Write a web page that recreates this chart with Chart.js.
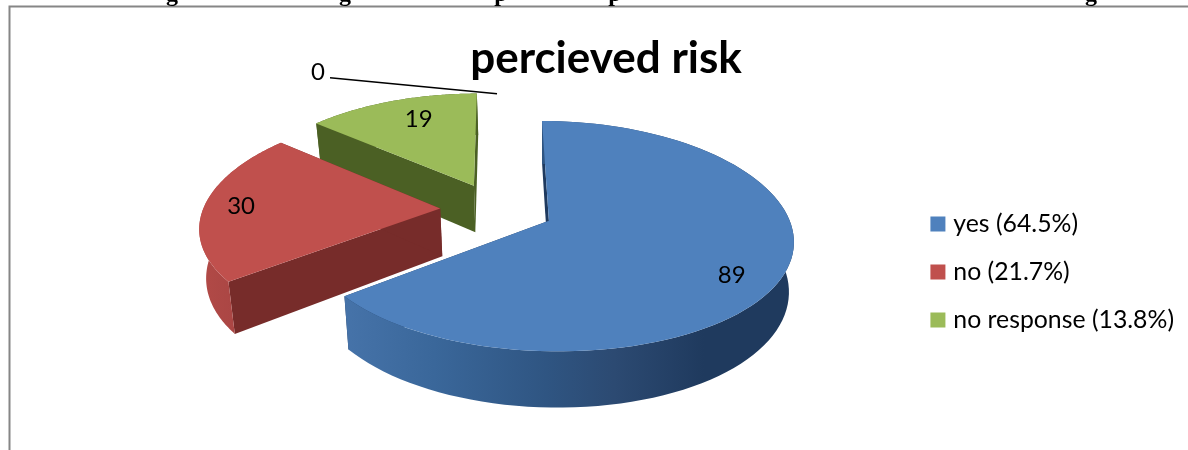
<!DOCTYPE html>
<html>
<head>
<meta charset="utf-8">
<style>
  html, body { margin: 0; padding: 0; background: #fff; }
  canvas { display: block; }
</style>
<script src="https://cdn.jsdelivr.net/npm/chart.js@4/dist/chart.umd.min.js"></script>
</head>
<body>
<canvas id="c" width="1188" height="450"></canvas>
<script>
const categories = ['yes (64.5%)', 'no (21.7%)', 'no response (13.8%)', 'unanswered'];
const counts = [89, 30, 19, 0];
const sliceColors = ['#4F81BD', '#C0504D', '#9BBB59', '#8064A2'];
const chartTitle = 'percieved risk';

// Perspective of the tilted pie: disc units to canvas pixels.
const view = { cx: 497, cy: 209, rx: 237, ry: 110, k: 0.132, kx: 0.15, depth: 48, taper: 0.02, taperX: 545, explode: 0.24 };
// Where each value label sits along its slice's middle direction.
const labelPlacement = [
  { along: 0.8, dx: -3, dy: 13 },
  { along: 0.84, dx: -1, dy: 0 },
  { along: 0.72, dx: 6, dy: -4 }
];
const wallShades = [
  { side: '#1F3A5F', rim: [[0, '#4673A9'], [0.2, '#3A679A'], [0.45, '#2F5582'], [0.6, '#2C4A72'], [0.8, '#1F3A5E'], [1, '#1F3A5E']] },
  { side: '#772C2A', rim: [[0, '#B24A47'], [1, '#A04140']] },
  { side: '#4B6024', rim: [[0, '#4B6024'], [1, '#4B6024']] }
];

function project(u, v, z) {
  const d = 1 - view.k * v;
  const x = view.cx + view.rx * u / (1 - view.kx * v);
  const y = view.cy + view.ry * v / d;
  return [view.taperX + (x - view.taperX) * (1 - view.taper * z), y + z * view.depth / d];
}

const pie3d = {
  id: 'pie3d',
  beforeDatasetsDraw(chart) {
    const ctx = chart.ctx;
    const arcs = chart.getDatasetMeta(0).data;
    const apexOf = arc => {
      const mid = (arc.startAngle + arc.endAngle) / 2;
      return [view.explode * Math.cos(mid), view.explode * Math.sin(mid), mid];
    };
    const rimPoints = (arc, z) => {
      const [ax, ay] = apexOf(arc);
      const pts = [];
      const n = 96;
      for (let i = 0; i <= n; i++) {
        const a = arc.startAngle + (arc.endAngle - arc.startAngle) * i / n;
        pts.push(project(ax + Math.cos(a), ay + Math.sin(a), z));
      }
      return pts;
    };
    const fillPoly = (pts, fill) => {
      ctx.beginPath();
      pts.forEach((p, i) => i ? ctx.lineTo(p[0], p[1]) : ctx.moveTo(p[0], p[1]));
      ctx.closePath();
      ctx.fillStyle = fill;
      ctx.fill();
    };

    // Paint back to front: green, red, then the large blue slice.
    [2, 1, 0].forEach(i => {
      const arc = arcs[i];
      const [ax, ay] = apexOf(arc);
      const top = rimPoints(arc, 0);
      const bottom = rimPoints(arc, 1);
      const apexTop = project(ax, ay, 0);
      const apexBottom = project(ax, ay, 1);
      const xs = top.map(p => p[0]);
      const grad = ctx.createLinearGradient(Math.min(...xs), 0, Math.max(...xs), 0);
      wallShades[i].rim.forEach(s => grad.addColorStop(s[0], s[1]));

      fillPoly([top[0], apexTop, apexBottom, bottom[0]], wallShades[i].side);
      fillPoly([top[top.length - 1], apexTop, apexBottom, bottom[bottom.length - 1]], wallShades[i].side);
      fillPoly(top.concat(bottom.slice().reverse()), grad);
      fillPoly([apexTop].concat(top), arc.options.backgroundColor);
    });

    ctx.save();
    ctx.font = '24px Lato';
    ctx.fillStyle = '#000';
    ctx.textAlign = 'center';
    ctx.textBaseline = 'middle';
    labelPlacement.forEach((place, i) => {
      const arc = arcs[i];
      const [ax, ay, mid] = apexOf(arc);
      const p = project(ax + place.along * Math.cos(mid), ay + place.along * Math.sin(mid), 0);
      ctx.fillText(String(counts[i]), p[0] + place.dx, p[1] + place.dy);
    });

    // The empty slice has no area, so its label hangs on a leader line.
    const [zx, zy, zMid] = apexOf(arcs[3]);
    const end = project(zx + Math.cos(zMid), zy + Math.sin(zMid), 0);
    ctx.beginPath();
    ctx.moveTo(end[0], end[1] + 2);
    ctx.lineTo(end[0] - 167, end[1] - 14);
    ctx.strokeStyle = '#000';
    ctx.lineWidth = 1.6;
    ctx.stroke();
    ctx.fillText(String(counts[3]), end[0] - 179, end[1] - 20);
    ctx.restore();
    return false;
  }
};

// Frame of the chart object and the clipped text line running above it.
const pageFrame = {
  id: 'pageFrame',
  beforeDraw(chart) {
    const ctx = chart.ctx;
    ctx.save();
    ctx.fillStyle = '#fff';
    ctx.fillRect(0, 0, chart.width, chart.height);
    ctx.strokeStyle = '#868686';
    ctx.lineWidth = 2;
    ctx.beginPath();
    ctx.moveTo(1188, 6.5);
    ctx.lineTo(9.5, 6.5);
    ctx.lineTo(9.5, 450);
    ctx.stroke();
    ctx.beginPath();
    ctx.rect(0, 0, chart.width, 6);
    ctx.clip();
    ctx.fillStyle = '#000';
    ctx.font = 'bold 24px "Liberation Serif"';
    ctx.textAlign = 'center';
    ctx.textBaseline = 'alphabetic';
    [['g', 172], ['g', 345], ['p', 501], ['p', 615], ['g', 1091]].forEach(([t, x]) => ctx.fillText(t, x, 1));
    ctx.restore();
  }
};

new Chart(document.getElementById('c'), {
  type: 'pie',
  data: {
    labels: categories,
    // The wide border pads the small legend swatches out to their full square.
    datasets: [{ data: counts, backgroundColor: sliceColors, borderColor: sliceColors, borderWidth: 9 }]
  },
  options: {
    responsive: false,
    animation: false,
    layout: { padding: { left: 28, right: 4, top: 0, bottom: 0 } },
    plugins: {
      tooltip: { enabled: false },
      title: {
        display: true,
        text: chartTitle,
        color: '#000',
        font: { family: 'Lato', size: 44, weight: 'bold' },
        padding: { top: 32, bottom: 9 }
      },
      legend: {
        position: 'right',
        fullSize: false,
        labels: {
          color: '#000',
          font: { family: 'Lato', size: 24.8 },
          boxWidth: 6,
          boxHeight: 6,
          padding: 23.2,
          filter: item => counts[item.index] > 0
        }
      }
    }
  },
  plugins: [pageFrame, pie3d]
});
</script>
</body>
</html>
